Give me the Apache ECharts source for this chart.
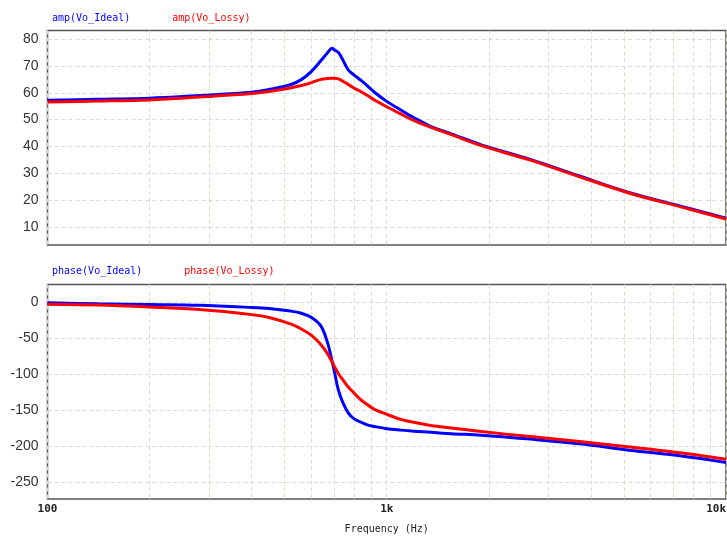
<!DOCTYPE html>
<html>
<head>
<meta charset="utf-8">
<script src="https://cdn.jsdelivr.net/npm/echarts@6/dist/echarts.min.js"></script>
<style>
  html, body { margin: 0; padding: 0; background: #fff; }
  #chart { width: 727px; height: 541px; }
</style>
</head>
<body>
<div id="chart"></div>
<script>
// frequency points (Hz) shared by all four traces
const freq = [100, 140, 200, 280, 400, 450, 520, 560, 600, 640, 670, 690, 700, 720, 740, 770, 800, 840, 880, 920, 1000, 1100, 1200, 1350, 1550, 1900, 2650, 3700, 5200, 7400, 10000];

// amplitude (dB)
const ampIdeal = [57.2, 57.6, 58.0, 59.0, 60.2, 61.2, 63.0, 64.9, 68.0, 72.0, 75.0, 76.6, 76.0, 75.0, 72.6, 68.5, 66.7, 64.6, 62.4, 60.2, 56.8, 53.6, 50.8, 47.4, 44.7, 40.6, 35.2, 29.0, 22.8, 17.7, 13.3];
const ampLossy = [56.6, 56.9, 57.35, 58.4, 59.7, 60.5, 61.8, 62.7, 63.8, 65.0, 65.3, 65.4, 65.4, 65.2, 64.4, 63.1, 61.8, 60.4, 58.9, 57.3, 54.8, 52.1, 49.7, 47.1, 44.4, 40.3, 34.9, 28.7, 22.6, 17.4, 13.0];

// phase (deg)
const phaseIdeal = [-0.5, -2, -3, -4, -7, -8.5, -12, -15, -21, -33, -57, -82, -95, -122, -138, -154, -162, -167, -171, -173, -176, -178, -179.5, -181, -183, -185, -190.5, -197, -206, -214, -223];
const phaseLossy = [-2.5, -3.7, -6.5, -10, -17, -21, -30, -37, -46, -59, -72, -83, -89, -99, -107, -118, -126, -136, -143, -149, -156, -163, -167, -171.5, -175, -180, -187, -194, -201.5, -210, -218.5];

// ticks / grid lines
const ampTicks = [10, 20, 30, 40, 50, 60, 70, 80];
const phaseTicks = [-250, -200, -150, -100, -50, 0];
const freqGrid = [100, 200, 300, 400, 500, 600, 700, 800, 900, 1000, 2000, 3000, 4000, 5000, 6000, 7000, 8000, 9000, 10000];
const freqLabels = [100, 1000, 10000];

const chart = echarts.init(document.getElementById('chart'));
const mono = 'DejaVu Sans Mono';
const BLUE = '#0000ff';
const RED = '#ff0000';

function pairs(ys) {
  return freq.map((f, i) => [f, ys[i]]);
}

function xAxisCfg(idx, showLabels) {
  return {
    type: 'log',
    logBase: 10,
    gridIndex: idx,
    min: 100,
    max: 10000,
    axisLine: { show: false },
    axisTick: { show: false, customValues: freqGrid },
    axisLabel: {
      show: showLabels,
      customValues: freqLabels,
      formatter: v => (v >= 1000 ? v / 1000 + 'k' : String(v)),
      fontFamily: mono,
      fontSize: 11,
      fontWeight: 'bold',
      color: '#222',
      margin: 5,
      alignMaxLabel: 'right'
    },
    splitLine: {
      show: true,
      lineStyle: { color: '#dddccb', type: [4, 3], width: 1 }
    },
    name: showLabels ? 'Frequency (Hz)' : '',
    nameLocation: 'middle',
    nameGap: 25,
    nameTextStyle: { fontFamily: mono, fontSize: 10, color: '#222' }
  };
}

function yAxisCfg(idx, min, max, ticks) {
  return {
    type: 'value',
    gridIndex: idx,
    min: min,
    max: max,
    axisLine: { show: false },
    axisTick: { show: false, customValues: ticks },
    axisLabel: {
      customValues: ticks,
      fontFamily: 'Liberation Sans',
      fontSize: 14,
      color: '#333',
      margin: 9
    },
    splitLine: {
      show: true,
      lineStyle: { color: '#dadada', type: [4, 3], width: 1 }
    }
  };
}

function line(name, idx, ys, color) {
  return {
    name: name,
    type: 'line',
    xAxisIndex: idx,
    yAxisIndex: idx,
    data: pairs(ys),
    showSymbol: false,
    smooth: 0.35,
    lineStyle: { color: color, width: 3 },
    itemStyle: { color: color },
    animation: false
  };
}

function legendCfg(top, items) {
  return {
    top: top,
    left: 42,
    itemWidth: 0,
    itemHeight: 0,
    itemGap: 37,
    icon: 'rect',
    selectedMode: false,
    data: items.map(([name, color]) => ({
      name: name,
      textStyle: { color: color, fontFamily: mono, fontSize: 10 }
    }))
  };
}

const gridBase = {
  left: 47.5,
  right: 1,
  show: true,
  borderColor: '#555',
  borderWidth: 1.5,
  backgroundColor: 'transparent',
  containLabel: false,
  outerBoundsMode: 'none'
};

const option = {
  animation: false,
  backgroundColor: '#fff',
  legend: [
    legendCfg(8, [['amp(Vo_Ideal)', BLUE], ['amp(Vo_Lossy)', RED]]),
    legendCfg(261, [['phase(Vo_Ideal)', BLUE], ['phase(Vo_Lossy)', RED]])
  ],
  grid: [
    Object.assign({}, gridBase, { top: 30.5, height: 214.5 }),
    Object.assign({}, gridBase, { top: 284.5, bottom: 42 })
  ],
  xAxis: [xAxisCfg(0, false), xAxisCfg(1, true)],
  yAxis: [
    yAxisCfg(0, 3.3, 83.2, ampTicks),
    yAxisCfg(1, -274, 25, phaseTicks)
  ],
  series: [
    line('amp(Vo_Ideal)', 0, ampIdeal, BLUE),
    line('amp(Vo_Lossy)', 0, ampLossy, RED),
    line('phase(Vo_Ideal)', 1, phaseIdeal, BLUE),
    line('phase(Vo_Lossy)', 1, phaseLossy, RED)
  ]
};

chart.setOption(option);
</script>
</body>
</html>
